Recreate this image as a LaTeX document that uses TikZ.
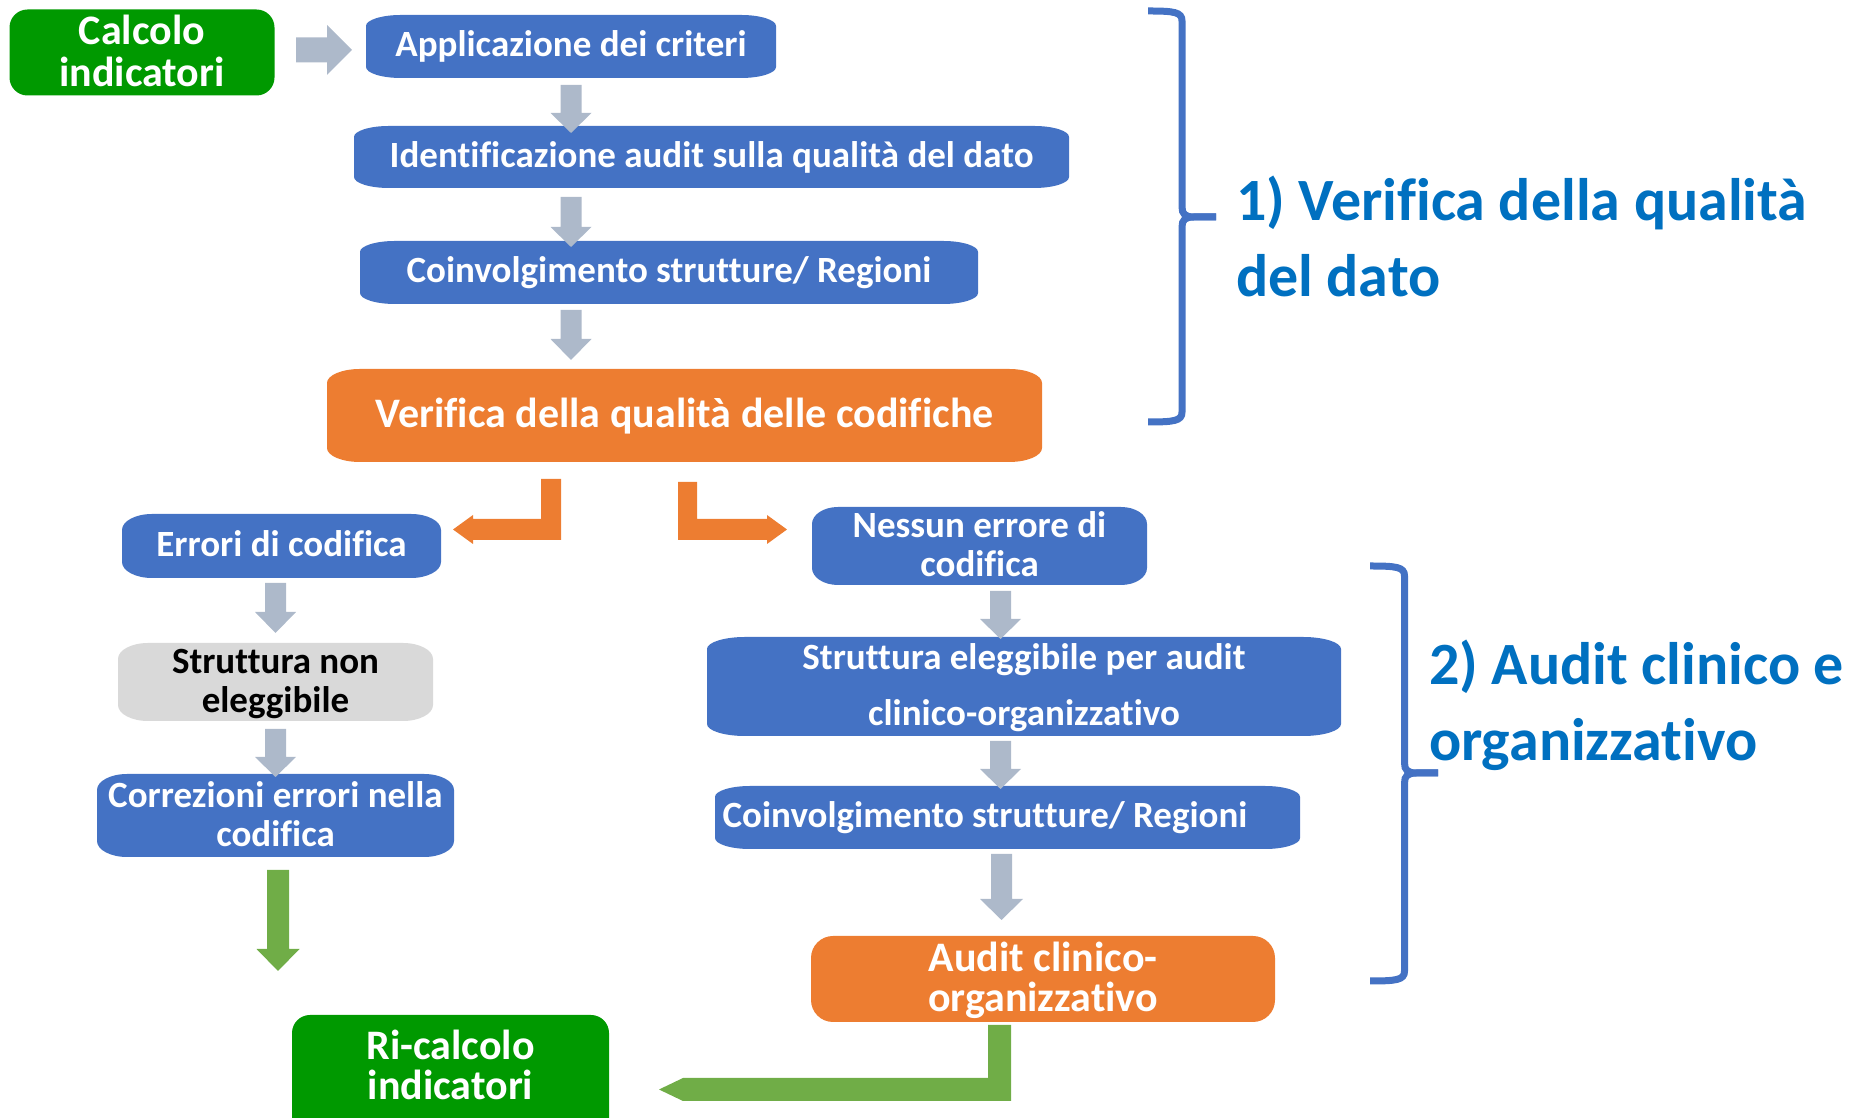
\documentclass[tikz,border=0pt]{standalone}
\usepackage{fontspec}
\setmainfont{Carlito}[Ligatures={NoCommon}]
\usetikzlibrary{calc}
\definecolor{bluebox}{HTML}{4472C4}
\definecolor{orangebox}{HTML}{ED7D31}
\definecolor{greenbox}{HTML}{009900}
\definecolor{greenarr}{HTML}{70AD47}
\definecolor{grayarr}{HTML}{ADB9CA}
\definecolor{graybox}{HTML}{D9D9D9}
\definecolor{labelblue}{HTML}{0070C0}
\newcommand\TS{\rule{0pt}{0.8em}}
\newcommand\BS{\rule[-0.2em]{0pt}{0.2em}}
% vertical block arrow: start, tip, colour, shaft half, head half, head length
\newcommand\darrow[6]{%
  \fill[#3] let \p1=#1, \p2=#2 in
    (\x1-#4pt,\y1) -- (\x1-#4pt,\y2+#6pt) -- (\x1-#5pt,\y2+#6pt) -- (\x1,\y2)
    -- (\x1+#5pt,\y2+#6pt) -- (\x1+#4pt,\y2+#6pt) -- (\x1+#4pt,\y1) -- cycle;}
% horizontal block arrow to the right
\newcommand\rarrow[6]{%
  \fill[#3] let \p1=#1, \p2=#2 in
    (\x1,\y1-#4pt) -- (\x2-#6pt,\y1-#4pt) -- (\x2-#6pt,\y1-#5pt) -- (\x2,\y1)
    -- (\x2-#6pt,\y1+#5pt) -- (\x2-#6pt,\y1+#4pt) -- (\x1,\y1+#4pt) -- cycle;}
% curly bracket: hook x, vertical x, tip x, top y, mid y, bottom y
\newcommand\curlyb[6]{%
  \draw[bluebox, line width=7pt] (#1,#4) .. controls ({#2-8},#4) and (#2,{#4-1}) .. (#2,{#4-10})
     -- (#2,{#5+10}) .. controls (#2,{#5+3}) and ({#2+3},#5) .. ({#2+12},#5) -- (#3,#5);
  \draw[bluebox, line width=7pt] (#3,#5) -- ({#2+12},#5) .. controls ({#2+3},#5) and (#2,{#5-3}) .. (#2,{#5-10})
     -- (#2,{#6+10}) .. controls (#2,{#6+1}) and ({#2-8},#6) .. (#1,#6);}
\tikzset{
  base/.style={inner sep=0pt, outer sep=0pt, align=center, text=white,
    font=\bfseries\fontsize{37}{39}\selectfont},
  one/.style={text height=27.75pt, text depth=7.4pt},
  oneo/.style={text height=31.5pt, text depth=8.4pt},
  bigfont/.style={font=\bfseries\fontsize{42}{40}\selectfont},
  lab/.style={inner sep=0pt, outer sep=0pt, anchor=base west, text=labelblue,
    font=\bfseries\fontsize{60}{76}\selectfont},
  ebox/.style n args={3}{base, fill=white, path picture={
    \fill[#1] ([yshift=-#3pt]path picture bounding box.north west)
      .. controls ([yshift=-0.448*#3pt]path picture bounding box.north west) and ([xshift=0.448*#2pt]path picture bounding box.north west) .. ([xshift=#2pt]path picture bounding box.north west)
      -- ([xshift=-#2pt]path picture bounding box.north east)
      .. controls ([xshift=-0.448*#2pt]path picture bounding box.north east) and ([yshift=-0.448*#3pt]path picture bounding box.north east) .. ([yshift=-#3pt]path picture bounding box.north east)
      -- ([yshift=#3pt]path picture bounding box.south east)
      .. controls ([yshift=0.448*#3pt]path picture bounding box.south east) and ([xshift=-0.448*#2pt]path picture bounding box.south east) .. ([xshift=-#2pt]path picture bounding box.south east)
      -- ([xshift=#2pt]path picture bounding box.south west)
      .. controls ([xshift=0.448*#2pt]path picture bounding box.south west) and ([yshift=0.448*#3pt]path picture bounding box.south west) .. ([yshift=#3pt]path picture bounding box.south west)
      -- cycle;}},
}
\begin{document}
\begin{tikzpicture}[x=1pt, y=1pt]
\useasboundingbox (0,0) rectangle (1857,1118);
\clip (0,0) rectangle (1857,1118);

% ---- boxes ----
\node[base, fill=greenbox, rounded corners=18pt, font=\bfseries\fontsize{42}{42}\selectfont,
  minimum width=265pt, minimum height=86pt] (calcind) at (142,1065.5) {\TS Calcolo\\indicatori\BS};
\node[ebox={bluebox}{35}{11}, one, minimum width=410pt, minimum height=63pt] (app) at (571,1071.5) {Applicazione dei criteri};
\node[ebox={bluebox}{35}{11}, one, minimum width=715pt, minimum height=62pt] (idf) at (711.5,961) {Identificazione audit sulla qualità del dato};
\node[ebox={bluebox}{35}{11}, one, minimum width=618pt, minimum height=63pt] (coin1) at (669,845.5) {Coinvolgimento strutture/ Regioni};
\node[ebox={orangebox}{33}{14}, oneo, bigfont, minimum width=715pt, minimum height=93pt] (ver) at (684.5,702.5) {Verifica della qualità delle codifiche};
\node[ebox={bluebox}{30}{16}, one, minimum width=319pt, minimum height=64pt] (err) at (281.5,572) {Errori di codifica};
\node[ebox={bluebox}{26}{17}, minimum width=335pt, minimum height=78pt] (ness) at (979.5,572) {\TS Nessun errore di\\codifica\BS};
\node[ebox={graybox}{30}{16}, text=black, minimum width=315pt, minimum height=78pt] (snon) at (275.5,436) {\TS Struttura non\\eleggibile\BS};
\node[ebox={bluebox}{30}{16}, minimum width=357pt, minimum height=83pt] (corr) at (275.5,302.5) {\TS Correzioni errori nella\\codifica\BS};
\node[ebox={bluebox}{38}{12}, font=\bfseries\fontsize{37}{56}\selectfont, minimum width=634pt, minimum height=99pt] (seleg) at (1024,431.5) {\TS Struttura eleggibile per audit\\clinico-organizzativo\BS};
\node[ebox={bluebox}{35}{11}, one, minimum width=585pt, minimum height=63pt] (coin2) at (1007.5,300.5) {Coinvolgimento strutture/ Regioni\hspace*{45pt}};
\node[base, fill=orangebox, rounded corners=22pt, bigfont, minimum width=464pt, minimum height=86pt] (audit) at (1043,139) {\TS Audit clinico-\\organizzativo\BS};
\node[base, fill=white, bigfont, minimum width=317pt, minimum height=103pt,
  path picture={\fill[greenbox, rounded corners=18pt] (path picture bounding box.north west) rectangle ([yshift=-40pt]path picture bounding box.south east);}]
  (rical) at (450.5,51.5) {\TS Ri-calcolo\\indicatori\BS};

% ---- labels ----
\node[lab] (l1a) at (1236,897) {1) Verifica della qualità};
\node[lab] (l1b) at (1236,821) {del dato};
\node[lab] (l2a) at (1429,433) {2) Audit clinico e};
\node[lab] (l2b) at (1429,357) {organizzativo};

% ---- braces ----
\curlyb{1148}{1182}{1216}{1107}{901}{696}
\curlyb{1370}{1404.5}{1438}{552}{345}{137}

% ---- arrow end points ----
\coordinate (h1s) at ($(calcind.east)+(21.5,2.5)$);
\coordinate (h1e) at ($(app.west)+(-14,0)$);
\coordinate (g1s) at ($(app.south)+(0,-7)$);
\coordinate (g1e) at ($(app.south |- idf.north)+(0,-7)$);
\coordinate (g2s) at ($(app.south |- idf.south)+(0,-9)$);
\coordinate (g2e) at ($(coin1.north)+(0,-6)$);
\coordinate (g3s) at ($(app.south |- coin1.south)+(0,-6)$);
\coordinate (g3e) at ($(ver.north)+(0,9)$);
\coordinate (g4s) at ($(snon.north |- err.south)+(0,-5)$);
\coordinate (g4e) at ($(snon.north)+(0,10)$);
\coordinate (g5s) at ($(snon.south)+(0,-8)$);
\coordinate (g5e) at ($(corr.north)+(0,-3)$);
\coordinate (g6s) at ($(ness.south)+(21,-6)$);
\coordinate (g6e) at ($(seleg.north)+(0,-2)$);
\coordinate (g7s) at ($(ness.south |- seleg.south)+(21,-5)$);
\coordinate (g7e) at ($(coin2.north)+(0,-3)$);
\coordinate (g8s) at ($(ness.south |- coin2.south)+(22,-5)$);
\coordinate (g8e) at ($(audit.north)+(0,16)$);
\coordinate (gds) at ($(corr.south)+(2.5,-13)$);
\coordinate (gtip) at (278,147);
\coordinate (ols) at ($(ver.south)+(-133.5,-17)$);
\coordinate (olt) at ($(err.east)+(12,16.5)$);
\coordinate (ors) at ($(ver.south)+(3,-20)$);
\coordinate (ort) at ($(ness.west)+(-25,16.5)$);
\coordinate (gbs) at ($(audit.south)+(-43.5,-3)$);
\coordinate (gbt) at ($(rical.east)+(50,-23)$);

% ---- arrows ----
\rarrow{(h1s)}{(h1e)}{grayarr}{12.5}{25}{25}
\darrow{(g1s)}{(g1e)}{grayarr}{10.5}{20.5}{20}
\darrow{(g2s)}{(g2e)}{grayarr}{10.5}{20.5}{20}
\darrow{(g3s)}{(g3e)}{grayarr}{10.5}{20.5}{21}
\darrow{(g4s)}{(g4e)}{grayarr}{10.5}{20.5}{21}
\darrow{(g5s)}{(g5e)}{grayarr}{10.5}{20.5}{20}
\darrow{(g6s)}{(g6e)}{grayarr}{10.5}{20.5}{20}
\darrow{(g7s)}{(g7e)}{grayarr}{10.5}{20.5}{20}
\darrow{(g8s)}{(g8e)}{grayarr}{10.5}{21.5}{21}
\darrow{(gds)}{(gtip)}{greenarr}{11}{21.5}{22}

\fill[orangebox] let \p1=(ols), \p2=(olt) in
  (\x1-10pt,\y1) -- (\x1+10pt,\y1) -- (\x1+10pt,\y2-10.5pt) -- (\x2+20pt,\y2-10.5pt)
  -- (\x2+20pt,\y2-14.5pt) -- (\x2,\y2) -- (\x2+20pt,\y2+14.5pt) -- (\x2+20pt,\y2+10.5pt)
  -- (\x1-10pt,\y2+10.5pt) -- cycle;
\fill[orangebox] let \p1=(ors), \p2=(ort) in
  (\x1-9.5pt,\y1) -- (\x1+9.5pt,\y1) -- (\x1+9.5pt,\y2+10.5pt) -- (\x2-20pt,\y2+10.5pt)
  -- (\x2-20pt,\y2+14.5pt) -- (\x2,\y2) -- (\x2-20pt,\y2-14.5pt) -- (\x2-20pt,\y2-10.5pt)
  -- (\x1-9.5pt,\y2-10.5pt) -- cycle;
\fill[greenarr] let \p1=(gbs), \p2=(gbt) in
  (\x1-11.5pt,\y1) -- (\x1+11.5pt,\y1) -- (\x1+11.5pt,\y2-11.5pt) -- (\x2+24pt,\y2-11.5pt)
  -- (\x2,\y2) -- (\x2+24pt,\y2+11.5pt) -- (\x1-11.5pt,\y2+11.5pt) -- cycle;
\end{tikzpicture}
\end{document}
